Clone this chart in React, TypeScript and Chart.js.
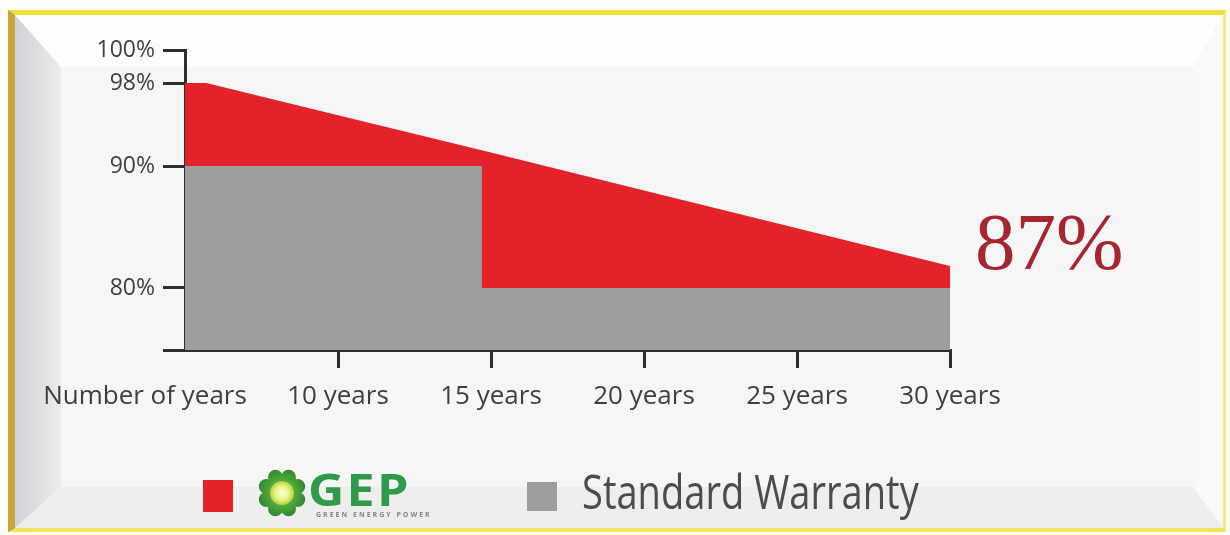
import React, { useEffect, useRef } from 'react';
import { Chart, registerables, LinearScale } from 'chart.js';

// ---------- data ----------
const xTickValues = [10, 15, 20, 25, 30];
const xTickLabels = ['10 years', '15 years', '20 years', '25 years', '30 years'];
const xOriginLabel = 'Number of years';
const yTickValues = [75, 80, 90, 98, 100];
const yTickLabels = ['', '80%', '90%', '98%', '100%'];

const gepYears = [5, 5.7, 10, 15, 20, 25, 30];
const gepValues = [98, 98, 94.9, 91.3, 88.0, 84.9, 81.8];

const standardYears = [5, 14.7, 14.7, 30];
const standardValues = [90, 90, 80, 80];

const seriesNames = ['GEP', 'Standard Warranty'];
const logoSubtitle = 'GREEN ENERGY POWER';
const highlightLabel = '87%';

// ---------- piecewise (broken) value axis, as in the original drawing ----------
const BREAK_VALUES = [75, 80, 90, 98, 100];
const BREAK_FRACTIONS = [0, 0.2067, 0.6133, 0.89, 1];

function valueToFraction(v: number): number {
  const n = BREAK_VALUES.length;
  let i = 0;
  if (v <= BREAK_VALUES[0]) i = 0;
  else if (v >= BREAK_VALUES[n - 1]) i = n - 2;
  else {
    while (i < n - 2 && v > BREAK_VALUES[i + 1]) i++;
  }
  const v0 = BREAK_VALUES[i], v1 = BREAK_VALUES[i + 1];
  const f0 = BREAK_FRACTIONS[i], f1 = BREAK_FRACTIONS[i + 1];
  return f0 + ((v - v0) / (v1 - v0)) * (f1 - f0);
}
function fractionToValue(f: number): number {
  const n = BREAK_FRACTIONS.length;
  let i = 0;
  if (f <= BREAK_FRACTIONS[0]) i = 0;
  else if (f >= BREAK_FRACTIONS[n - 1]) i = n - 2;
  else {
    while (i < n - 2 && f > BREAK_FRACTIONS[i + 1]) i++;
  }
  const v0 = BREAK_VALUES[i], v1 = BREAK_VALUES[i + 1];
  const f0 = BREAK_FRACTIONS[i], f1 = BREAK_FRACTIONS[i + 1];
  return v0 + ((f - f0) / (f1 - f0)) * (v1 - v0);
}

class PiecewiseScale extends LinearScale {
  static id = 'piecewise';
  static defaults = LinearScale.defaults;
  getPixelForValue(value: any) {
    if (value === null || value === undefined || isNaN(value)) return NaN;
    return this.getPixelForDecimal(valueToFraction(+value));
  }
  getValueForPixel(pixel: number) {
    return fractionToValue(this.getDecimalForPixel(pixel));
  }
}

Chart.register(...registerables, PiecewiseScale as any);

const RED = '#e3222a';
const GRAY = '#9e9e9e';
const AXIS = '#2e2e2e';
const TEXT = '#3f3f3f';

function drawLogo(ctx: CanvasRenderingContext2D, cx: number, cy: number) {
  ctx.save();
  const g = ctx.createRadialGradient(cx, cy, 6, cx, cy, 25);
  g.addColorStop(0, '#6cbc3a');
  g.addColorStop(1, '#2a8634');
  ctx.fillStyle = g;
  ctx.beginPath();
  ctx.arc(cx, cy, 19, 0, Math.PI * 2);
  ctx.fill();
  for (let i = 0; i < 8; i++) {
    const a = (i * Math.PI) / 4 + Math.PI / 8;
    ctx.beginPath();
    ctx.arc(cx + Math.cos(a) * 17, cy + Math.sin(a) * 17, 7.5, 0, Math.PI * 2);
    ctx.fill();
  }
  const inner = ctx.createRadialGradient(cx, cy, 1, cx, cy, 12);
  inner.addColorStop(0, '#fbffd8');
  inner.addColorStop(0.6, '#e2f27a');
  inner.addColorStop(1, '#a9d43a');
  ctx.fillStyle = inner;
  ctx.beginPath();
  ctx.arc(cx, cy, 12, 0, Math.PI * 2);
  ctx.fill();
  ctx.restore();
}

const decorPlugin = {
  id: 'decor',
  afterDraw(chart: any) {
    const ctx: CanvasRenderingContext2D = chart.ctx;
    const area = chart.chartArea;
    const xs = chart.scales.x;
    ctx.save();

    // origin label of the x axis
    ctx.font = '26px "Open Sans"';
    ctx.fillStyle = TEXT;
    ctx.textAlign = 'center';
    ctx.textBaseline = 'top';
    ctx.fillText(xOriginLabel, area.left - 40, xs.top + 18 + 16);

    // highlighted end value
    ctx.font = '81px "Liberation Serif"';
    ctx.fillStyle = '#a7252e';
    ctx.textAlign = 'left';
    ctx.textBaseline = 'alphabetic';
    ctx.fillText(highlightLabel, area.right + 25, 269);

    // legend
    ctx.fillStyle = RED;
    ctx.fillRect(203, 480, 30, 32);
    drawLogo(ctx, 282, 493);

    ctx.save();
    ctx.translate(308, 506);
    ctx.scale(1.14, 1);
    ctx.fillStyle = '#2f9a4a';
    ctx.font = 'bold 44px "Open Sans"';
    (ctx as any).letterSpacing = '2px';
    ctx.textAlign = 'left';
    ctx.fillText(seriesNames[0], 0, 0);
    ctx.restore();

    ctx.font = 'bold 7px "Open Sans"';
    (ctx as any).letterSpacing = '2px';
    ctx.fillStyle = '#7d8c80';
    ctx.fillText(logoSubtitle, 316, 517);
    (ctx as any).letterSpacing = '0px';

    ctx.fillStyle = GRAY;
    ctx.fillRect(527, 482, 30, 29);
    ctx.translate(582, 509);
    ctx.scale(0.81, 1);
    ctx.font = '47px "Open Sans"';
    ctx.fillStyle = '#4c4c4c';
    ctx.fillText(seriesNames[1], 0, 0);
    ctx.restore();
  },
};

const bevel = (clip: string, background: string): React.CSSProperties => ({
  position: 'absolute',
  left: 0,
  top: 0,
  width: '100%',
  height: '100%',
  clipPath: clip,
  background,
});

export default function App() {
  const ref = useRef<HTMLCanvasElement>(null);

  useEffect(() => {
    if (!ref.current) return;
    const chart = new Chart(ref.current, {
      type: 'line',
      data: {
        datasets: [
          {
            label: seriesNames[0],
            data: gepYears.map((x, i) => ({ x, y: gepValues[i] })),
            backgroundColor: RED,
            borderColor: RED,
            borderWidth: 0,
            pointRadius: 0,
            fill: 'start',
            order: 2,
          },
          {
            label: seriesNames[1],
            data: standardYears.map((x, i) => ({ x, y: standardValues[i] })),
            backgroundColor: GRAY,
            borderColor: GRAY,
            borderWidth: 0,
            pointRadius: 0,
            fill: 'start',
            order: 1,
          },
        ],
      },
      options: {
        responsive: false,
        maintainAspectRatio: false,
        animation: false,
        layout: { padding: { left: 85, right: 280, top: 50, bottom: 85 } },
        plugins: { legend: { display: false }, tooltip: { enabled: false } },
        scales: {
          x: {
            type: 'linear',
            min: 5,
            max: 30,
            z: 1,
            afterBuildTicks: (s: any) => {
              s.ticks = xTickValues.map((v) => ({ value: v }));
            },
            afterFit: (s: any) => {
              s.height = 100;
            },
            border: { display: true, color: AXIS, width: 3 },
            grid: {
              display: true,
              drawOnChartArea: false,
              drawTicks: true,
              tickLength: 18,
              lineWidth: 3,
              tickWidth: 3,
              color: AXIS,
              tickColor: AXIS,
            },
            ticks: {
              autoSkip: false,
              maxRotation: 0,
              padding: 13,
              color: TEXT,
              font: { family: '"Open Sans"', size: 26 },
              callback: (_v: any, i: number) => xTickLabels[i],
            },
          },
          y: {
            type: 'piecewise' as any,
            min: 75,
            max: 100,
            z: 1,
            afterBuildTicks: (s: any) => {
              s.ticks = yTickValues.map((v) => ({ value: v }));
            },
            afterFit: (s: any) => {
              s.width = 100;
            },
            border: { display: true, color: AXIS, width: 3 },
            grid: {
              display: true,
              drawOnChartArea: false,
              drawTicks: true,
              tickLength: 22,
              lineWidth: 3,
              tickWidth: 3,
              color: AXIS,
              tickColor: AXIS,
            },
            ticks: {
              autoSkip: false,
              padding: 8,
              color: TEXT,
              font: { family: '"Open Sans"', size: 23 },
              callback: (_v: any, i: number) => yTickLabels[i],
            },
          },
        },
      },
      plugins: [decorPlugin],
    } as any);
    return () => chart.destroy();
  }, []);

  return (
    <div style={{ position: 'absolute', left: 0, top: 0, width: 1230, height: 535, background: '#fdfdf8', overflow: 'hidden' }}>
      <div
        style={{
          position: 'absolute',
          left: 8,
          top: 10,
          width: 1218,
          height: 522,
          boxSizing: 'border-box',
          borderTop: '5px solid #f0e13a',
          borderRight: '3px solid #f3ea80',
          borderBottom: '4px solid #f4e85a',
          borderLeft: '7px solid #c8a43e',
        }}
      >
        <div style={{ position: 'absolute', left: 0, top: 0, right: 0, bottom: 0, background: '#f6f6f6' }}>
          <div style={bevel('polygon(0px 0px, 100% 0px, calc(100% - 30px) 52px, 46px 52px)', '#fefefe')} />
          <div style={bevel('polygon(0px 0px, 46px 52px, 46px calc(100% - 41px), 0px 100%)', 'linear-gradient(to right, #d2d2d6 0px, #e2e2e4 30px, #ececed 46px, #ececed 100%)')} />
          <div style={bevel('polygon(100% 0px, 100% 100%, calc(100% - 30px) calc(100% - 41px), calc(100% - 30px) 52px)', '#f9f9f9')} />
          <div style={bevel('polygon(0px 100%, 46px calc(100% - 41px), calc(100% - 30px) calc(100% - 41px), 100% 100%)', '#eeeeee')} />
        </div>
      </div>
      <canvas ref={ref} width={1230} height={535} style={{ position: 'absolute', left: 0, top: 0 }} />
    </div>
  );
}
